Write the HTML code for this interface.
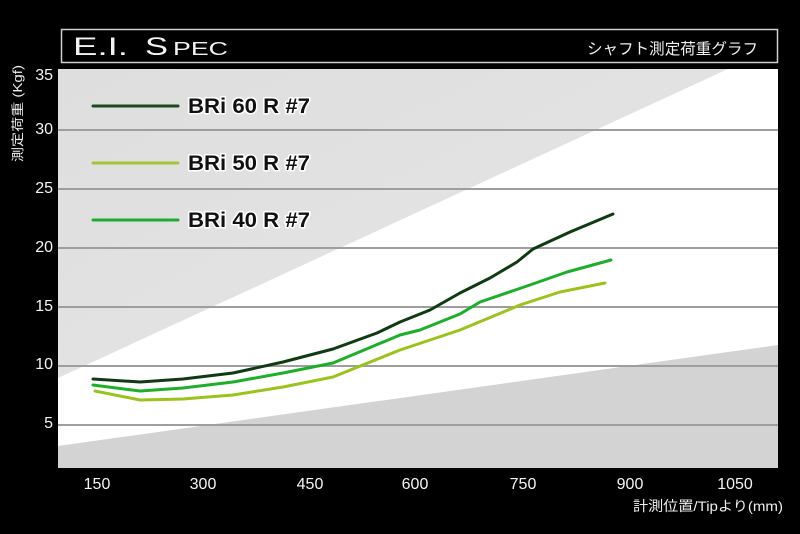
<!DOCTYPE html>
<html>
<head>
<meta charset="utf-8">
<style>
html,body{margin:0;padding:0;background:#000;}
svg{display:block;}
</style>
</head>
<body>
<svg width="800" height="534" viewBox="0 0 800 534" xmlns="http://www.w3.org/2000/svg">
  <defs>
    <linearGradient id="ug" x1="0" y1="0" x2="1" y2="1">
      <stop offset="0" stop-color="#dedede"/>
      <stop offset="1" stop-color="#e6e6e6"/>
    </linearGradient>
  </defs>
  <rect x="0" y="0" width="800" height="534" fill="#000"/>

  <!-- Title box -->
  <rect x="61.5" y="29.5" width="716" height="33" fill="#000" stroke="#cfcfcf" stroke-width="1.5"/>
  <g fill="#f2f2f2" font-family="'Liberation Sans', sans-serif">
    <text x="73" y="55" font-size="25" textLength="55" lengthAdjust="spacingAndGlyphs">E.I.</text>
    <text x="145" y="55" font-size="25" textLength="23" lengthAdjust="spacingAndGlyphs">S</text>
    <text x="173" y="55" font-size="18" textLength="55" lengthAdjust="spacingAndGlyphs">PEC</text>
  </g>
  <text x="587" y="54" font-size="15.5" fill="#f0f0f0" font-family="'Liberation Sans','Noto Sans CJK JP',sans-serif" textLength="171" lengthAdjust="spacingAndGlyphs">シャフト測定荷重グラフ</text>

  <!-- Plot area -->
  <rect x="58" y="69" width="720" height="399" fill="#ffffff"/>
  <polygon points="58,69 728,69 58,378" fill="url(#ug)"/>
  <polygon points="58,446 778,345 778,468 58,468" fill="#d3d3d3"/>

  <!-- gridlines -->
  <g stroke="#9e9e9e" stroke-width="2">
    <line x1="58" y1="130" x2="778" y2="130"/>
    <line x1="58" y1="189" x2="778" y2="189"/>
    <line x1="58" y1="248" x2="778" y2="248"/>
    <line x1="58" y1="307" x2="778" y2="307"/>
    <line x1="58" y1="366" x2="778" y2="366"/>
    <line x1="58" y1="425" x2="778" y2="425"/>
  </g>

  <!-- series -->
  <g fill="none" stroke-width="3" stroke-linejoin="round" stroke-linecap="round">
    <polyline stroke="#9cc21e" points="95,391 140,400 183,399 233,395 283,387 333,377 400,350 460,330 520,305 560,292 605,283"/>
    <polyline stroke="#1fae2a" points="93,385 140,391 183,388 233,382 283,373 333,363 400,335 420,330 460,314 480,302 527,286 567,272 611,260"/>
    <polyline stroke="#0f3a12" points="93,379 140,382 183,379 233,373 283,362 333,349 377,333 400,322 430,310 460,293 490,278 517,262 533,249 570,232 613,214"/>
  </g>

  <!-- legend -->
  <g stroke-width="3" stroke-linecap="round">
    <line x1="93" y1="106" x2="178" y2="106" stroke="#1c4a1c"/>
    <line x1="93" y1="163" x2="178" y2="163" stroke="#a6c43a"/>
    <line x1="93" y1="220" x2="178" y2="220" stroke="#22aa2e"/>
  </g>
  <g font-family="'Liberation Sans', sans-serif" font-weight="bold" font-size="21" fill="#111" stroke="#ffffff" stroke-width="3" paint-order="stroke" stroke-linejoin="round">
    <text x="188" y="113" textLength="122" lengthAdjust="spacingAndGlyphs">BRi 60 R #7</text>
    <text x="188" y="170" textLength="122" lengthAdjust="spacingAndGlyphs">BRi 50 R #7</text>
    <text x="188" y="227" textLength="122" lengthAdjust="spacingAndGlyphs">BRi 40 R #7</text>
  </g>

  <!-- y tick labels -->
  <g font-family="'Liberation Sans', sans-serif" font-size="16" fill="#f4f4f4" text-anchor="end">
    <text x="53" y="80">35</text>
    <text x="53" y="134">30</text>
    <text x="53" y="193">25</text>
    <text x="53" y="252">20</text>
    <text x="53" y="311">15</text>
    <text x="53" y="369">10</text>
    <text x="53" y="428">5</text>
  </g>

  <!-- x tick labels -->
  <g font-family="'Liberation Sans', sans-serif" font-size="16" fill="#f4f4f4" text-anchor="middle">
    <text x="97" y="489">150</text>
    <text x="203" y="489">300</text>
    <text x="310" y="489">450</text>
    <text x="415" y="489">600</text>
    <text x="523" y="489">750</text>
    <text x="630" y="489">900</text>
    <text x="735" y="489">1050</text>
  </g>

  <!-- axis titles -->
  <text x="633" y="511" font-size="14" fill="#eeeeee" font-family="'Liberation Sans','Noto Sans CJK JP',sans-serif" textLength="150" lengthAdjust="spacingAndGlyphs">計測位置/Tipより(mm)</text>
  <text transform="translate(22,162) rotate(-90)" x="0" y="0" font-size="12.5" fill="#eeeeee" font-family="'Liberation Sans','Noto Sans CJK JP',sans-serif" textLength="97" lengthAdjust="spacingAndGlyphs">測定荷重 (Kgf)</text>
</svg>
</body>
</html>
